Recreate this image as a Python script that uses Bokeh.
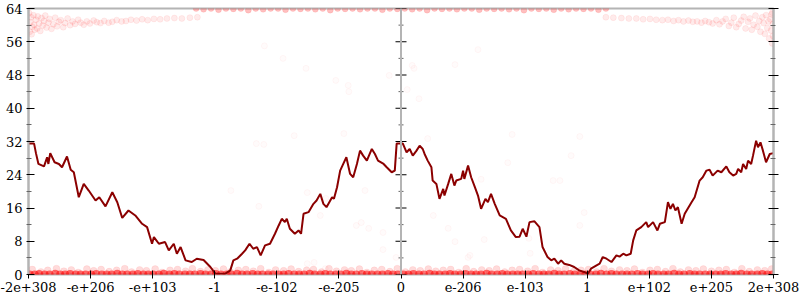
from bokeh.plotting import figure
from bokeh.models import FixedTicker, Span, Range1d, LinearAxis
from bokeh.embed import file_html
from bokeh.resources import INLINE

# ---------------- data ----------------
x_tick_pos = [-6, -5, -4, -3, -2, -1, 0, 1, 2, 3, 4, 5, 6]
x_tick_labels = ["-2e+308", "-e+206", "-e+103", "-1", "-e-102", "-e-205", "0",
                 "e-206", "e-103", "1", "e+102", "e+205", "2e+308"]
y_ticks = [0, 8, 16, 24, 32, 40, 48, 56, 64]
y_minor = [4, 12, 20, 28, 36, 44, 52, 60]

# error line (bits of error)
line_x = [-6.00, -5.91, -5.88, -5.84, -5.75, -5.70, -5.68, -5.65, -5.58, -5.51,
          -5.46, -5.38, -5.32, -5.27, -5.19, -5.11, -5.03, -4.92, -4.86, -4.76,
          -4.65, -4.57, -4.49, -4.39, -4.28, -4.17, -4.09, -4.01, -3.98, -3.90,
          -3.80, -3.74, -3.66, -3.61, -3.55, -3.47, -3.37, -3.29, -3.18, -3.07,
          -2.99,
          -2.83, -2.75, -2.70, -2.64, -2.56, -2.51, -2.44, -2.38, -2.32, -2.26,
          -2.19, -2.11, -2.03, -1.97, -1.92, -1.87, -1.84, -1.79, -1.71, -1.65,
          -1.61, -1.57, -1.49, -1.41, -1.36, -1.30, -1.25, -1.20, -1.11, -1.08,
          -1.03, -0.98, -0.93, -0.88, -0.82, -0.77, -0.71, -0.66, -0.61, -0.55,
          -0.47, -0.42, -0.37, -0.28, -0.23, -0.15, -0.10, -0.07, 0.01,
          0.03, 0.09, 0.14, 0.19, 0.25, 0.30, 0.35, 0.38, 0.43, 0.49,
          0.51, 0.57, 0.62, 0.68, 0.70, 0.76, 0.81, 0.86, 0.89, 0.97,
          1.00, 1.02, 1.08, 1.13, 1.19, 1.24, 1.29, 1.36, 1.40, 1.45,
          1.51, 1.59, 1.64, 1.69, 1.77, 1.85, 1.91, 1.96, 2.02, 2.07,
          2.15, 2.23, 2.28, 2.36, 2.42, 2.47, 2.53, 2.58, 2.63, 2.71,
          2.79, 2.87, 2.95,
          3.01, 3.06, 3.15, 3.20, 3.25, 3.31, 3.39, 3.47, 3.52, 3.58,
          3.63, 3.70, 3.74, 3.79, 3.87, 3.95, 3.98, 4.06, 4.13, 4.17,
          4.25, 4.30, 4.34, 4.38, 4.42, 4.46, 4.52, 4.57, 4.68, 4.73,
          4.81, 4.86, 4.92, 4.97, 5.02, 5.10, 5.16, 5.24, 5.29, 5.35,
          5.40, 5.43, 5.48, 5.51, 5.56, 5.59, 5.64, 5.67, 5.72, 5.75,
          5.79, 5.83, 5.88, 5.94, 6.00]
line_y = [31.5, 31.5, 29.2, 26.6, 26.0, 28.2, 26.6, 29.2, 27.0, 26.6,
          25.8, 28.4, 25.2, 24.6, 18.6, 21.8, 20.2, 17.8, 18.6, 16.4,
          19.8, 17.4, 13.6, 15.4, 14.2, 12.2, 11.4, 7.4, 9.0, 7.4,
          7.8, 5.8, 7.4, 5.0, 6.6, 3.4, 3.0, 3.8, 3.5, 1.8,
          0.2,
          0.2, 1.0, 3.4, 3.8, 5.0, 5.8, 7.4, 6.2, 6.6, 4.6,
          7.0, 7.4, 9.8, 11.8, 13.4, 12.6, 13.4, 11.0, 9.8, 10.6,
          9.8, 14.6, 15.0, 17.0, 17.8, 19.4, 17.0, 16.2, 18.6, 18.2,
          21.0, 25.0, 26.6, 28.2, 24.2, 23.4, 26.6, 29.8, 28.6, 27.4,
          30.2, 29.0, 27.4, 26.6, 25.8, 24.6, 25.0, 31.5, 31.5,
          31.5, 29.4, 30.2, 28.6, 29.8, 31.0, 30.2, 29.0, 27.4, 25.8,
          22.6, 21.8, 18.2, 20.6, 19.0, 21.8, 24.2, 21.4, 22.6, 23.0,
          25.0, 23.0, 26.2, 23.4, 21.0, 19.0, 15.8, 18.2, 17.4, 19.4,
          17.0, 14.2, 13.8, 13.4, 10.6, 9.0, 9.1, 11.0, 9.1, 12.6,
          12.8, 11.4, 6.6, 4.2, 3.4, 3.8, 2.6, 3.4, 2.6, 2.3,
          1.8, 1.0, 0.6,
          0.2, 1.4, 2.2, 2.6, 4.2, 3.8, 3.0, 4.6, 4.3, 5.0,
          4.6, 5.0, 8.2, 10.6, 11.4, 12.6, 11.4, 12.6, 10.6, 12.2,
          12.6, 17.4, 15.8, 17.0, 15.4, 16.2, 12.2, 14.6, 17.4, 18.6,
          22.6, 23.4, 25.0, 25.2, 23.8, 25.0, 24.6, 26.0, 24.6, 23.8,
          24.2, 25.4, 24.6, 26.6, 25.4, 27.4, 26.6, 28.6, 32.2, 30.6,
          31.8, 29.8, 27.0, 29.0, 29.2]

# sampled points: exact results (0 bits)
exact_x = [-5.98, -5.90, -5.83, -5.74, -5.66, -5.57, -5.49, -5.41, -5.33, -5.24, -5.16, -5.08,
           -4.99, -4.91, -4.82, -4.74, -4.66, -4.57, -4.49, -4.41, -4.32, -4.24, -4.15, -4.07,
           -3.99, -3.90, -3.82, -3.73, -3.65, -3.57, -3.48, -3.40, -3.32, -3.23, -3.15, -3.06,
           -2.98, -2.90, -2.81, -2.73, -2.64, -2.56, -2.48, -2.39, -2.31, -2.23, -2.14, -2.06,
           -1.97, -1.89, -1.81, -1.72, -1.64, -1.56, -1.47, -1.39, -1.30, -1.22, -1.14, -1.05,
           -0.97, -0.88, -0.80, -0.72, -0.63, -0.55, -0.47, -0.38, -0.30, -0.21, -0.13, -0.05,
           0.04, 0.12, 0.20, 0.29, 0.37, 0.46, 0.54, 0.62, 0.71, 0.79, 0.87, 0.96,
           1.04, 1.13, 1.21, 1.29, 1.38, 1.46, 1.55, 1.63, 1.71, 1.80, 1.88, 1.96,
           2.05, 2.13, 2.22, 2.30, 2.38, 2.47, 2.55, 2.63, 2.72, 2.80, 2.89, 2.97,
           3.05, 3.14, 3.22, 3.31, 3.39, 3.47, 3.56, 3.64, 3.72, 3.81, 3.89, 3.98,
           4.06, 4.14, 4.23, 4.31, 4.40, 4.48, 4.56, 4.65, 4.73, 4.81, 4.90, 4.98,
           5.07, 5.15, 5.23, 5.32, 5.40, 5.48, 5.57, 5.65, 5.74, 5.82, 5.90, 5.98]
exact_y = [0.0, 0.0, 0.1, 0.0, 0.0, 0.2, 0.0, 0.0, 0.1, 0.0, 0.0, 0.0,
           0.0, 0.1, 0.0, 0.0, 0.0, 0.2, 0.0, 0.0, 0.0, 0.1, 0.0, 0.0,
           0.0, 0.0, 0.2, 0.0, 0.1, 0.0, 0.0, 0.0, 0.0, 0.1, 0.0, 0.0,
           0.1, 0.0, 0.0, 0.0, 0.2, 0.0, 0.0, 0.1, 0.0, 0.0, 0.0, 0.0,
           0.0, 0.0, 0.1, 0.0, 0.0, 0.0, 0.2, 0.0, 0.0, 0.1, 0.0, 0.0,
           0.0, 0.2, 0.0, 0.0, 0.1, 0.0, 0.0, 0.0, 0.0, 0.1, 0.0, 0.0,
           0.0, 0.0, 0.1, 0.0, 0.0, 0.2, 0.0, 0.0, 0.0, 0.1, 0.0, 0.0,
           0.1, 0.0, 0.0, 0.0, 0.2, 0.0, 0.0, 0.1, 0.0, 0.0, 0.0, 0.0,
           0.0, 0.1, 0.0, 0.0, 0.0, 0.2, 0.0, 0.0, 0.1, 0.0, 0.0, 0.0,
           0.0, 0.0, 0.2, 0.0, 0.1, 0.0, 0.0, 0.0, 0.0, 0.1, 0.0, 0.0,
           0.1, 0.0, 0.0, 0.0, 0.2, 0.0, 0.0, 0.1, 0.0, 0.0, 0.0, 0.0,
           0.0, 0.0, 0.1, 0.0, 0.0, 0.2, 0.0, 0.0, 0.0, 0.1, 0.0, 0.0]

# sampled points: around 1 bit
near_x = [-5.94, -5.80, -5.69, -5.55, -5.43, -5.31, -5.20, -5.06, -4.95, -4.83, -4.70, -4.58, -4.45, -4.34,
          -4.21, -4.10, -3.96, -3.85, -3.72, -3.60, -3.47, -3.36, -3.23, -3.11, -2.99, -2.86, -2.75, -2.62,
          -2.50, -2.38, -2.26, -2.13, -2.02, -1.89, -1.77, -1.65, -1.52, -1.41, -1.28, -1.16, -1.04, -0.91,
          -0.80, -0.67, -0.55, -0.43, -0.31, -0.18, -0.06, 0.07, 0.19, 0.31, 0.44, 0.56, 0.68, 0.80,
          0.93, 1.05, 1.17, 1.30, 1.42, 1.54, 1.67, 1.79, 1.91, 2.04, 2.16, 2.28, 2.41, 2.53,
          2.65, 2.78, 2.90, 3.02, 3.15, 3.27, 3.39, 3.52, 3.64, 3.76, 3.89, 4.01, 4.13, 4.26,
          4.38, 4.50, 4.63, 4.75, 4.87, 5.00, 5.12, 5.24, 5.37, 5.49, 5.61, 5.74, 5.86, 5.97]
near_y = [1.2, 0.6, 1.0, 1.4, 0.8, 1.1, 0.5, 1.3, 0.9, 1.2, 0.7, 1.0, 1.4, 0.6,
          1.1, 0.9, 1.3, 0.5, 1.0, 1.2, 0.8, 1.4, 0.7, 1.1, 0.9, 1.3, 0.6, 1.0,
          1.2, 0.8, 1.4, 0.5, 1.1, 0.9, 1.3, 0.7, 1.0, 1.2, 0.6, 1.4, 0.8, 1.1,
          0.9, 1.3, 0.5, 1.0, 1.2, 0.7, 1.4, 0.6, 1.1, 0.9, 1.3, 0.8, 1.0, 1.2,
          0.5, 1.4, 0.7, 1.1, 0.9, 1.3, 0.6, 1.0, 1.2, 0.8, 1.4, 0.5, 1.1, 0.9,
          1.3, 0.7, 1.0, 1.2, 0.6, 1.4, 0.8, 1.1, 0.9, 1.3, 0.5, 1.0, 1.2, 0.7,
          1.4, 0.6, 1.1, 0.9, 1.3, 0.8, 1.0, 1.2, 0.5, 1.4, 0.7, 1.1, 0.9, 1.3]

# sampled points: total failure near 64 bits (middle)
top_x = [-3.30, -3.18, -3.06, -2.94, -2.82, -2.70, -2.58, -2.46, -2.34, -2.22,
         -2.10, -1.98, -1.86, -1.74, -1.62, -1.50, -1.38, -1.26, -1.14, -1.02,
         -0.90, -0.78, -0.66, -0.54, -0.42, -0.30, -0.18, -0.06, 0.06, 0.18,
         0.30, 0.42, 0.54, 0.66, 0.78, 0.90, 1.02, 1.14, 1.26, 1.38,
         1.50, 1.62, 1.74, 1.86, 1.98, 2.10, 2.22, 2.34, 2.46, 2.58,
         2.70, 2.82, 2.94, 3.06, 3.18, 3.30]
top_y = [64.0, 63.8, 64.0, 63.7, 64.0, 63.9, 64.0, 63.6, 64.0, 63.8,
         64.0, 64.0, 63.7, 64.0, 63.9, 64.0, 63.8, 64.0, 63.6, 64.0,
         63.9, 64.0, 63.8, 64.0, 64.0, 63.7, 64.0, 63.9, 64.0, 63.8,
         64.0, 63.6, 64.0, 63.9, 64.0, 63.8, 64.0, 64.0, 63.7, 64.0,
         63.9, 64.0, 63.8, 64.0, 63.6, 64.0, 63.9, 64.0, 63.7, 64.0,
         63.8, 64.0, 63.9, 64.0, 63.7, 64.0]

# sampled points: high-error band on the left
tl_x = [-5.99, -5.98, -5.97, -5.96, -5.95, -5.94, -5.92, -5.91, -5.90, -5.88,
        -5.86, -5.85, -5.83, -5.81, -5.79, -5.77, -5.75, -5.73, -5.71, -5.68,
        -5.66, -5.63, -5.60, -5.57, -5.54, -5.51, -5.48, -5.44, -5.41, -5.37,
        -5.33, -5.29, -5.25, -5.20, -5.16, -5.11, -5.06, -5.01, -4.95, -4.90,
        -4.84, -4.78, -4.71, -4.65, -4.58, -4.50, -4.43, -4.35, -4.26, -4.17,
        -4.08, -3.98, -3.88, -3.77, -3.65, -3.53, -3.40, -3.28]
tl_y = [62.9, 58.4, 60.7, 61.9, 57.8, 59.6, 62.4, 60.1, 58.9, 61.3,
        59.2, 62.1, 60.4, 58.6, 61.7, 59.9, 61.0, 62.3, 59.4, 60.6,
        61.5, 59.1, 60.2, 61.8, 59.7, 60.8, 61.2, 59.5, 60.5, 61.6,
        60.0, 60.9, 60.3, 61.3, 60.6, 60.1, 60.9, 60.4, 61.1, 60.7,
        60.5, 61.0, 60.6, 60.8, 61.2, 60.9, 61.0, 61.3, 61.1, 61.4,
        61.2, 61.5, 61.4, 61.6, 61.7, 61.6, 61.8, 61.9]

# sampled points: high-error band on the right
tr_x = [3.30, 3.42, 3.55, 3.67, 3.79, 3.90, 4.01, 4.11, 4.21, 4.30,
        4.39, 4.47, 4.55, 4.63, 4.70, 4.77, 4.84, 4.90, 4.96, 5.02,
        5.08, 5.13, 5.18, 5.23, 5.28, 5.32, 5.36, 5.40, 5.44, 5.48,
        5.52, 5.55, 5.59, 5.62, 5.65, 5.68, 5.71, 5.74, 5.77, 5.79,
        5.82, 5.84, 5.86, 5.88, 5.90, 5.92, 5.93, 5.95, 5.96, 5.97,
        5.98, 5.99, 5.99, 5.98]
tr_y = [61.9, 61.8, 61.7, 61.6, 61.6, 61.4, 61.5, 61.3, 61.2, 61.3,
        61.0, 61.2, 60.9, 61.1, 60.8, 60.9, 60.6, 61.0, 60.7, 60.4,
        61.2, 60.2, 60.9, 61.5, 59.8, 60.6, 61.8, 59.5, 60.3, 61.1,
        62.0, 59.2, 60.8, 61.6, 58.9, 60.1, 62.3, 59.6, 61.0, 58.4,
        61.9, 60.5, 57.9, 62.4, 59.3, 60.9, 56.8, 61.4, 58.7, 62.6,
        55.6, 60.2, 57.4, 63.0]

# sampled points: isolated
iso_x = [-1.30, -0.72, -0.52, -0.29, -1.40, 0.52, 0.76, 0.87, 1.11, 1.34,
         -1.53, -1.05, -0.85, -0.84, -0.19, 0.18, 0.21, 0.10, 0.29, -2.33,
         -2.21, -1.72, -0.92, -2.74, -2.29, -1.51, -1.21, -0.58, -1.51, -1.22,
         -0.64, -0.29, 0.43, 1.79, 2.88, 2.74, 1.29, 2.45, 2.56, 1.72,
         2.06, 2.95, 2.88, -0.08, 2.08, 1.08, 0.87, 1.24, -2.20, -1.90]
iso_y = [14.2, 11.8, 11.1, 6.0, 2.9, 14.2, 11.1, 7.9, 4.6, 8.4,
         49.6, 46.7, 45.5, 44.0, 47.9, 50.3, 49.6, 44.5, 42.3, 31.5,
         31.3, 33.4, 33.9, 20.2, 16.4, 19.7, 18.3, 20.2, 2.6, 1.4,
         12.5, 10.1, 32.7, 33.7, 33.2, 28.6, 22.9, 22.6, 22.6, 26.9,
         8.7, 14.9, 11.8, 4.1, 5.1, 4.1, 50.5, 54.1, 55.0, 52.0]

# ---------------- figure ----------------
AXIS_GRAY = "#b4b4b4"
FONT = "DejaVu Serif"
RED = "#ff0000"

p = figure(width=800, height=300, x_range=Range1d(-6, 6), y_range=Range1d(0, 64),
           output_backend="svg", toolbar_location=None,
           min_border_left=28, min_border_right=27, min_border_top=8, min_border_bottom=26)
p.grid.visible = False
p.outline_line_color = AXIS_GRAY
p.outline_line_width = 2
p.background_fill_color = "white"
p.border_fill_color = "white"

# points
p.scatter(exact_x, exact_y, marker="circle", size=8, fill_color=RED, fill_alpha=0.55, line_color=None)
p.scatter(near_x, near_y, marker="circle", size=7, fill_color=RED, fill_alpha=0.14,
          line_color=RED, line_alpha=0.06)
p.scatter(top_x, top_y, marker="circle", size=6, fill_color=RED, fill_alpha=0.25,
          line_color=RED, line_alpha=0.08)
p.scatter(tl_x, tl_y, marker="circle", size=6, fill_color=RED, fill_alpha=0.08,
          line_color=RED, line_alpha=0.06)
p.scatter(tr_x, tr_y, marker="circle", size=6, fill_color=RED, fill_alpha=0.08,
          line_color=RED, line_alpha=0.06)
p.scatter(iso_x, iso_y, marker="circle", size=6, fill_color=RED, fill_alpha=0.015,
          line_color=RED, line_alpha=0.035)

# center axis at x = 0
p.add_layout(Span(location=0, dimension="height", line_color=AXIS_GRAY, line_width=2))
p.scatter([0] * len(y_ticks), y_ticks, marker="dash", size=11, line_color="black", line_width=1)
p.scatter([0] * len(y_minor), y_minor, marker="dash", size=5, line_color="#666666", line_width=1)

# error line
p.line(line_x, line_y, line_color="#8b0000", line_width=2)

# axes
ya = p.yaxis[0]
ya.ticker = FixedTicker(ticks=y_ticks, minor_ticks=y_minor)
ya.axis_line_color = AXIS_GRAY
ya.axis_line_width = 2
ya.major_tick_line_color = "black"
ya.major_tick_in = 6
ya.major_tick_out = 2
ya.minor_tick_line_color = "#666666"
ya.minor_tick_in = 3
ya.minor_tick_out = 2
ya.major_label_text_font = FONT
ya.major_label_text_font_size = "13px"
ya.major_label_text_color = "black"
ya.major_label_standoff = 4

ra = LinearAxis(ticker=FixedTicker(ticks=y_ticks, minor_ticks=y_minor))
ra.axis_line_color = AXIS_GRAY
ra.axis_line_width = 2
ra.major_tick_line_color = "black"
ra.major_tick_in = 5
ra.major_tick_out = 5
ra.minor_tick_line_color = "#666666"
ra.minor_tick_in = 3
ra.minor_tick_out = 2
ra.major_label_overrides = {t: "" for t in y_ticks}
ra.major_label_standoff = 0
p.add_layout(ra, "right")

xa = p.xaxis[0]
xa.ticker = FixedTicker(ticks=x_tick_pos, minor_ticks=[])
xa.major_label_overrides = {k: v for k, v in zip(x_tick_pos, x_tick_labels)}
xa.axis_line_color = None
xa.major_tick_line_color = "black"
xa.major_tick_in = 4
xa.major_tick_out = 4
xa.major_label_text_font = FONT
xa.major_label_text_font_size = "13px"
xa.major_label_text_color = "black"
xa.major_label_standoff = 3

open("out.html", "w").write(file_html(p, INLINE))
